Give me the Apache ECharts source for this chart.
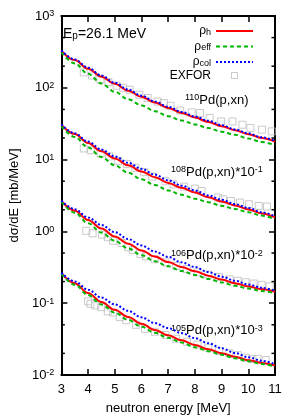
<!DOCTYPE html>
<html><head><meta charset="utf-8">
<script src="https://cdn.jsdelivr.net/npm/echarts@6/dist/echarts.min.js"></script>
<style>html,body{margin:0;padding:0;background:#fff}#c{width:300px;height:420px}</style>
</head><body><div id="c"></div>
<script>
const FONT = '"Liberation Sans", Arial, Helvetica, sans-serif';
// neutron energy grid [MeV]
const energies = [3,3.5,4,4.5,5,5.5,6,6.5,7,7.5,8,8.5,9,9.5,10,10.5,11];
// 110Pd(p,xn)
const pd110_h   = [327,243,184,143,113.5,91.2,75.0,62.4,52.5,44.7,38.5,33.5,29.2,25.7,22.6,20.0,17.8];
const pd110_eff = [312.6,218.8,156.7,114.8,88.1,69.2,56.9,47.3,40.3,35.1,30.9,27.5,24.5,22.1,19.7,17.6,15.8];
const pd110_col = [331,248,190.5,147.9,117.5,94.4,77.6,64.6,54.3,46.2,39.8,34.7,30.2,26.3,23.2,20.4,18.2];
// 108Pd(p,xn)*10^-1
const pd108_h   = [30.6,22.7,17.0,13.06,10.37,8.34,6.85,5.70,4.74,4.04,3.48,2.99,2.61,2.30,2.02,1.78,1.57];
const pd108_eff = [29.2,20.7,14.8,10.86,8.34,6.55,5.32,4.43,3.72,3.24,2.86,2.55,2.27,2.05,1.85,1.66,1.48];
const pd108_col = [31.0,23.2,17.8,13.8,11.1,9.04,7.43,6.18,5.14,4.33,3.72,3.17,2.76,2.40,2.12,1.85,1.62];
// 106Pd(p,xn)*10^-2
const pd106_h   = [2.65,1.945,1.442,1.094,0.849,0.675,0.542,0.446,0.375,0.319,0.278,0.242,0.213,0.190,0.171,0.156,0.144];
const pd106_eff = [2.594,1.816,1.300,0.964,0.740,0.581,0.467,0.384,0.327,0.281,0.248,0.218,0.195,0.175,0.160,0.148,0.138];
const pd106_col = [2.685,2.037,1.563,1.227,0.975,0.783,0.637,0.524,0.441,0.371,0.319,0.272,0.234,0.206,0.182,0.164,0.149];
// 105Pd(p,xn)*10^-3
const pd105_h   = [0.262,0.190,0.139,0.104,0.0809,0.0643,0.0516,0.0425,0.0357,0.0304,0.0262,0.0228,0.0201,0.0179,0.0161,0.0147,0.0135];
const pd105_eff = [0.256,0.181,0.130,0.0962,0.0738,0.0586,0.0471,0.0387,0.0330,0.0284,0.0244,0.0215,0.0192,0.0171,0.0156,0.0142,0.0131];
const pd105_col = [0.265,0.201,0.154,0.1197,0.0962,0.0782,0.0635,0.0528,0.0450,0.0383,0.0326,0.0277,0.0236,0.0203,0.0177,0.0158,0.0141];
// EXFOR data
const exfor110_E = [3.84,4.15,4.46,4.76,5.07,5.31,5.56,5.92,6.23,6.60,6.84,7.09,7.45,7.88,8.19,8.55,8.98,9.41,9.78,10.08,10.51,10.88];
const exfor110_V = [164,148,131,120,107,100,94,80,72,64.4,61.2,56.1,48.3,45.4,44.5,38,34,34,30.6,27.6,26.1,24.7];
const exfor108_E = [3.84,4.10,4.47,4.79,5.13,5.45,5.77,6.10,6.40,6.90,7.20,7.60,8.00,8.25,8.86,9.05,9.35,9.69,10.02,10.39,10.70];
const exfor108_V = [14.3,13.5,12.2,11.1,9.6,8.7,7.7,6.7,5.8,5.0,4.52,4.2,3.95,3.65,2.96,2.80,2.65,2.52,2.39,2.26,2.22];
const exfor106_E = [3.93,4.17,4.52,4.74,4.94,5.25,5.50,5.68,5.96,6.17,6.50,6.90,7.30,7.70,8.10,8.50,8.90,9.30,9.60,9.90,10.20,10.50,10.80];
const exfor106_V = [1.02,0.94,0.90,0.83,0.74,0.69,0.60,0.55,0.485,0.45,0.41,0.37,0.33,0.30,0.27,0.25,0.232,0.215,0.205,0.196,0.188,0.180,0.172];
const exfor105_E = [4.00,4.09,4.27,4.49,4.74,4.94,5.19,5.43,5.80,6.13,6.50,6.90,7.30,7.70,8.10,8.50,8.90,9.29,9.60,9.90,10.15,10.34,10.65];
const exfor105_V = [0.106,0.098,0.093,0.088,0.077,0.074,0.064,0.058,0.050,0.044,0.040,0.036,0.032,0.029,0.0265,0.024,0.0215,0.020,0.0189,0.0174,0.0167,0.0168,0.0161];
// tick labels / minor ticks
const xTicks = [3,4,5,6,7,8,9,10,11];
const yMinorTicks = [0.02,0.05,0.2,0.5,2,5,20,50,200,500];

const zip = (xs, ys) => xs.map((x, i) => [x, ys[i]]);
const RED = '#ff0000', GREEN = '#00b400', BLUE = '#0000ff', GRAY = '#bdbdbd';

function lineSeries(name, ys, color, type) {
  return {
    name, type: 'line', data: zip(energies, ys), symbol: 'none', smooth: 0.35, smoothMonotone: 'x',
    lineStyle: { color, width: 2, type, cap: 'butt' }, itemStyle: { color }, z: name === 'rho_h' ? 3 : 4, silent: true
  };
}
function exforSeries(E, V) {
  return {
    name: 'EXFOR', type: 'scatter', data: zip(E, V), symbol: 'rect', symbolSize: 7,
    itemStyle: { color: 'rgba(0,0,0,0)', borderColor: GRAY, borderWidth: 1 }, z: 2, silent: true
  };
}
const sets = [
  [pd110_h, pd110_eff, pd110_col, exfor110_E, exfor110_V],
  [pd108_h, pd108_eff, pd108_col, exfor108_E, exfor108_V],
  [pd106_h, pd106_eff, pd106_col, exfor106_E, exfor106_V],
  [pd105_h, pd105_eff, pd105_col, exfor105_E, exfor105_V]
];
const series = [];
sets.forEach(s => {
  series.push(exforSeries(s[3], s[4]));
  series.push(lineSeries('rho_h', s[0], RED, 'solid'));
  series.push(lineSeries('rho_eff', s[1], GREEN, [4, 3]));
  series.push(lineSeries('rho_col', s[2], BLUE, [2, 2]));
});
// minor ticks on left and right frame (log axis 2 and 5 subdivisions)
series.push({
  type: 'custom', silent: true, clip: false, z: 10,
  data: yMinorTicks.map(v => [xTicks[0], v]),
  renderItem(params, api) {
    const v = api.value(1);
    const l = api.coord([xTicks[0], v]);
    const r = api.coord([xTicks[xTicks.length - 1], v]);
    const st = { stroke: '#000', lineWidth: 1.5 };
    return { type: 'group', children: [
      { type: 'line', shape: { x1: l[0], y1: l[1], x2: l[0] + 3.5, y2: l[1] }, style: st },
      { type: 'line', shape: { x1: r[0] - 3.5, y1: r[1], x2: r[0], y2: r[1] }, style: st }
    ]};
  }
});

const axisLineStyle = { show: true, lineStyle: { color: '#000', width: 2 } };
const tickStyle = { show: true, inside: true, length: 6, lineStyle: { color: '#000', width: 1.5 } };
const supRich = {
  b: { fontSize: 13, lineHeight: 13, verticalAlign: 'bottom', fontFamily: FONT, color: '#000' },
  s: { fontSize: 9, lineHeight: 9, verticalAlign: 'top', padding: [0, 0, 7, 0], fontFamily: FONT, color: '#000' }
};
const subRich = {
  b: { fontSize: 12, lineHeight: 12, verticalAlign: 'top', fontFamily: FONT, color: '#000' },
  u: { fontSize: 9, lineHeight: 9, verticalAlign: 'bottom', padding: [5, 0, 0, 0], fontFamily: FONT, color: '#000' }
};
const legendLabels = { rho_h: '{b|ρ}{u|h}', rho_eff: '{b|ρ}{u|eff}', rho_col: '{b|ρ}{u|col}', EXFOR: '{b|EXFOR}' };
const hiddenSymbol = { color: 'rgba(0,0,0,0)', borderColor: 'rgba(0,0,0,0)', borderWidth: 0, opacity: 0 };

const option = {
  animation: false,
  grid: { left: 57, right: 25, top: 16, bottom: 43 },
  xAxis: [
    { type: 'value', min: 3, max: 11, interval: 1, position: 'bottom',
      axisLine: axisLineStyle, axisTick: tickStyle, splitLine: { show: false },
      axisLabel: { fontSize: 13, fontFamily: FONT, color: '#000', margin: 8 },
      name: 'neutron energy [MeV]', nameLocation: 'middle', nameGap: 27,
      nameTextStyle: { fontSize: 13, fontFamily: FONT, color: '#000' } },
    { type: 'value', min: 3, max: 11, interval: 1, position: 'top',
      axisLine: axisLineStyle, axisTick: tickStyle, splitLine: { show: false }, axisLabel: { show: false } }
  ],
  yAxis: [
    { type: 'log', logBase: 10, min: 0.01, max: 1000, position: 'left',
      axisLine: axisLineStyle, axisTick: tickStyle, splitLine: { show: false },
      axisLabel: { margin: 7, formatter: v => '{b|10}{s|' + Math.round(Math.log10(v)) + '}', rich: supRich },
      name: 'dσ/dE [mb/MeV]', nameLocation: 'middle', nameGap: 37,
      nameTextStyle: { fontSize: 13, fontFamily: FONT, color: '#000' } },
    { type: 'log', logBase: 10, min: 0.01, max: 1000, position: 'right',
      axisLine: axisLineStyle, axisTick: tickStyle, splitLine: { show: false }, axisLabel: { show: false } }
  ],
  legend: {
    orient: 'vertical', align: 'right', right: 41, top: 18, itemWidth: 37, itemHeight: 6, itemGap: 1.5,
    symbolKeepAspect: true,
    data: [
      { name: 'rho_h', itemStyle: hiddenSymbol },
      { name: 'rho_eff', itemStyle: hiddenSymbol },
      { name: 'rho_col', itemStyle: hiddenSymbol },
      { name: 'EXFOR', icon: 'path://M0,0h10v10h-10z', itemStyle: { color: 'rgba(0,0,0,0)', borderColor: GRAY, borderWidth: 1 } }
    ],
    formatter: n => legendLabels[n],
    textStyle: { rich: subRich, fontFamily: FONT, fontSize: 12, color: '#000' },
    selectedMode: false
  },
  graphic: [
    { type: 'text', x: 63, y: 34, style: { text: '{m|E}{p|p}{m|=26.1 MeV}', verticalAlign: 'middle', fill: '#000',
      rich: { m: { fontSize: 14, lineHeight: 14, verticalAlign: 'top', fontFamily: FONT, fill: '#000' },
              p: { fontSize: 10, lineHeight: 10, verticalAlign: 'bottom', padding: [4, 0, 0, 0], fontFamily: FONT, fill: '#000' } } } },
    { type: 'text', x: 185, y: 100, style: { text: '{s|110}{b|Pd(p,xn)}', verticalAlign: 'middle', rich: supRich } },
    { type: 'text', x: 171, y: 172, style: { text: '{s|108}{b|Pd(p,xn)*10}{s|-1}', verticalAlign: 'middle', rich: supRich } },
    { type: 'text', x: 171, y: 255.5, style: { text: '{s|106}{b|Pd(p,xn)*10}{s|-2}', verticalAlign: 'middle', rich: supRich } },
    { type: 'text', x: 171, y: 330.5, style: { text: '{s|105}{b|Pd(p,xn)*10}{s|-3}', verticalAlign: 'middle', rich: supRich } }
  ],
  series
};
const chart = echarts.init(document.getElementById('c'), null, { renderer: 'canvas' });
chart.setOption(option);
</script></body></html>
